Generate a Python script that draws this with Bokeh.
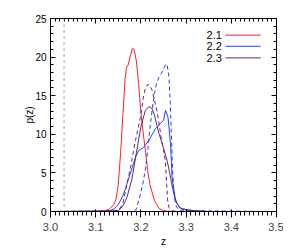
from bokeh.plotting import figure
from bokeh.models import LinearAxis, SingleIntervalTicker, Span, Range1d, PrintfTickFormatter, Title
from bokeh.core.properties import value
from bokeh.embed import file_html
from bokeh.resources import INLINE

# ---- data ----
z_red = [3.00, 3.10, 3.12, 3.13, 3.14, 3.145, 3.15, 3.155, 3.16, 3.165, 3.168, 3.172, 3.176, 3.181,
         3.185, 3.19, 3.195, 3.20, 3.205, 3.21, 3.215, 3.22, 3.23, 3.24, 3.25, 3.26, 3.28, 3.50]
p_red = [0, 0, 0.1, 0.3, 0.9, 1.6, 3.5, 7.5, 12.3, 17.2, 18.6, 19.0, 20.0, 21.1,
         21.0, 19.5, 16.5, 12.8, 10.2, 7.9, 5.3, 3.5, 1.4, 0.4, 0.1, 0.05, 0, 0]

z_blue = [3.00, 3.12, 3.13, 3.14, 3.15, 3.16, 3.166, 3.177, 3.188, 3.195, 3.206, 3.2175, 3.232,
          3.243, 3.25, 3.2545, 3.26, 3.2655, 3.269, 3.2765, 3.288, 3.30, 3.32, 3.35, 3.50]
p_blue = [0, 0, 0.1, 0.3, 0.9, 2.0, 3.0, 5.0, 7.0, 7.9, 8.3, 9.2, 10.7,
          11.4, 11.8, 13.1, 12.2, 8.8, 4.4, 1.4, 0.35, 0.2, 0.08, 0, 0]

z_purple = [3.00, 3.15, 3.16, 3.166, 3.17, 3.18, 3.19, 3.20, 3.21, 3.2175, 3.225, 3.23, 3.236,
            3.24, 3.247, 3.25, 3.258, 3.265, 3.27, 3.275, 3.28, 3.285, 3.29, 3.30, 3.32, 3.35, 3.50]
p_purple = [0, 0.1, 0.7, 1.4, 2.0, 4.2, 7.6, 11.0, 13.1, 13.6, 13.3, 12.5, 11.0,
            10.1, 8.8, 8.2, 6.6, 4.6, 3.0, 1.9, 1.0, 0.6, 0.4, 0.25, 0.1, 0, 0]

z_blue_d = [3.00, 3.18, 3.19, 3.20, 3.205, 3.21, 3.215, 3.22, 3.225, 3.23, 3.235, 3.24, 3.245,
            3.25, 3.255, 3.258, 3.262, 3.265, 3.268, 3.27, 3.273, 3.277, 3.285, 3.50]
p_blue_d = [0, 0, 0.3, 2.5, 3.8, 5.5, 7.8, 10.8, 13.2, 15.3, 16.7, 17.4, 17.9,
            18.4, 19.1, 19.0, 17.5, 14.0, 9.0, 5.5, 2.5, 0.8, 0.1, 0]

z_purple_d = [3.00, 3.15, 3.16, 3.166, 3.177, 3.188, 3.199, 3.205, 3.21, 3.216, 3.22, 3.225, 3.232,
              3.236, 3.24, 3.245, 3.25, 3.254, 3.257, 3.259, 3.262, 3.27, 3.28, 3.50]
p_purple_d = [0, 0.1, 1.0, 2.7, 5.7, 9.2, 12.2, 14.6, 16.0, 16.5, 16.3, 15.7, 13.9,
              12.9, 11.5, 9.5, 8.0, 6.6, 3.5, 1.5, 0.5, 0.1, 0, 0]

legend_labels = ["2.1", "2.2", "2.3"]
z_marker = 3.03

RED = "#ff2020"
BLUE = "#2040ff"
PURPLE = "#5e2a7e"
colors = [RED, BLUE, PURPLE]

FONT = "Liberation Sans"

p = figure(width=283, height=247, output_backend="svg", toolbar_location=None,
           x_range=Range1d(3.0, 3.5), y_range=Range1d(0, 25),
           min_border_left=50, min_border_right=7, min_border_top=18, min_border_bottom=36,
           y_axis_label="p(z)")
p.xgrid.visible = False
p.ygrid.visible = False
p.outline_line_color = "black"
p.background_fill_color = "white"
p.border_fill_color = "white"

xt = SingleIntervalTicker(interval=0.1, num_minor_ticks=10)
yt = SingleIntervalTicker(interval=5, num_minor_ticks=5)
p.xaxis.ticker = xt
p.yaxis.ticker = yt
p.xaxis.formatter = PrintfTickFormatter(format="%.1f")

top = LinearAxis(ticker=xt)
right = LinearAxis(ticker=yt)
p.add_layout(top, "above")
p.add_layout(right, "right")

for ax in [p.xaxis[0], p.yaxis[0], top, right]:
    ax.major_tick_in = 5
    ax.major_tick_out = 0
    ax.minor_tick_in = 3
    ax.minor_tick_out = 0
    ax.axis_line_color = "black"
    ax.major_tick_line_color = "black"
    ax.minor_tick_line_color = "black"
    ax.major_label_text_font = FONT
    ax.major_label_text_font_size = "10px"
    ax.major_label_text_color = "black"
    ax.axis_label_text_font = FONT
    ax.axis_label_text_font_size = "10px"
    ax.axis_label_text_font_style = "normal"
    ax.axis_label_text_color = "black"

for ax in [top, right]:
    ax.major_label_text_color = None
    ax.major_label_standoff = 0

p.xaxis[0].major_label_standoff = 1
p.yaxis[0].major_label_standoff = 4
p.yaxis[0].axis_label_standoff = -3

# x-axis title under the tick labels
p.add_layout(Title(text="z", align="center", text_font=FONT, text_font_size="10px",
                   text_font_style="normal", text_color="black", standoff=0), "below")

p.add_layout(Span(location=z_marker, dimension="height", line_color="gray",
                  line_dash="dotted", line_width=1))

p.line(z_red, p_red, line_color=RED, line_width=1)
p.line(z_blue, p_blue, line_color=BLUE, line_width=1)
p.line(z_purple, p_purple, line_color=PURPLE, line_width=1)
p.line(z_blue_d, p_blue_d, line_color=BLUE, line_width=1, line_dash="4 3")
p.line(z_purple_d, p_purple_d, line_color=PURPLE, line_width=1, line_dash="4 3")

# legend (text left of line)
leg_y = [22.85, 21.4, 19.9]
p.segment(x0=[3.387] * 3, x1=[3.465] * 3, y0=leg_y, y1=leg_y, line_color=colors, line_width=1)
p.text(x=[3.379] * 3, y=leg_y, text=legend_labels, text_align="right", text_baseline="middle",
       text_font=value(FONT), text_font_size="11px", text_color="black")

open("out.html", "w").write(file_html(p, INLINE))
